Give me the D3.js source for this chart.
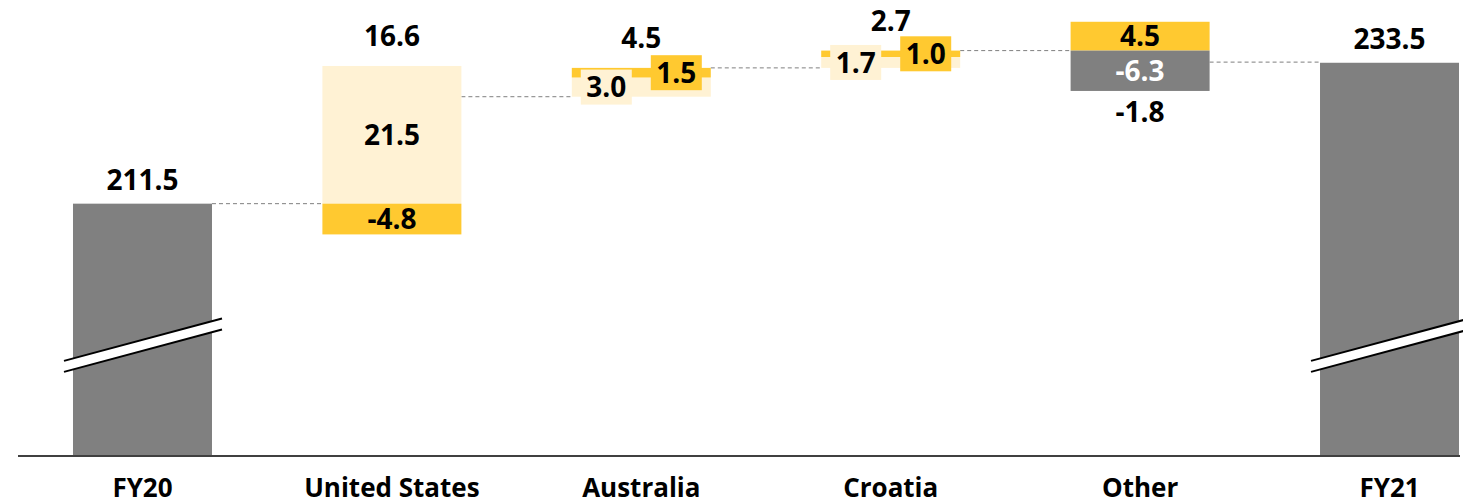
<!DOCTYPE html>
<html>
<head>
<meta charset="utf-8">
<script src="https://cdn.jsdelivr.net/npm/d3@7"></script>
<style>
  html, body { margin: 0; padding: 0; background: #fff; }
  svg { display: block; }
  text { font-family: "Open Sans", "Lato", sans-serif; font-weight: 700; }
</style>
</head>
<body>
<svg id="chart" width="1463" height="504"></svg>
<script>
// Bridge categories, left to right
const categories = ["FY20", "United States", "Australia", "Croatia", "Other", "FY21"];

// Opening and closing totals
const startTotal = 211.5;
const endTotal = 233.5;

// Change components per category (null = not present)
const creamChanges  = [null, 21.5, 3.0, 1.7, null, null];
const yellowChanges = [null, -4.8, 1.5, 1.0, 4.5, null];
const greyChanges   = [null, null, null, null, -6.3, null];

// Net change shown above/below each bridge step
const netLabels = [null, 16.6, 4.5, 2.7, -1.8, null];

const W = 1463, H = 504;
const COLORS = { cream: "#FFF2D4", yellow: "#FFC930", grey: "#808080" };
const VALUE_FONT = 28;

const svg = d3.select("#chart");

const x = d3.scaleBand()
  .domain(categories)
  .range([18, 1514])
  .paddingInner(0.4427)
  .paddingOuter(0.2205);
const bw = x.bandwidth();

// The axis is broken: it starts well above zero
const y = d3.scaleLinear().domain([172.1, 243.3]).range([456, 0]);
const baseY = y.range()[0];
const fmt = d3.formatLocale({ decimal: ".", thousands: ",", grouping: [3], currency: ["", ""], minus: "-" }).format(".1f");

// Build stacked segments for the change categories
const series = [
  { key: "cream", values: creamChanges },
  { key: "yellow", values: yellowChanges },
  { key: "grey", values: greyChanges }
];

let running = startTotal;
const steps = categories.map((cat, i) => {
  if (i === 0) return { cat, type: "total", value: startTotal, start: startTotal, end: startTotal };
  if (i === categories.length - 1) return { cat, type: "total", value: endTotal, start: endTotal, end: endTotal };
  const start = running;
  let up = start, down = start;
  const segs = [];
  series.forEach(s => {
    const v = s.values[i];
    if (v == null) return;
    if (v >= 0) { segs.push({ key: s.key, v, lo: up, hi: up + v }); up += v; }
    else { segs.push({ key: s.key, v, lo: down + v, hi: down }); down += v; }
  });
  const end = start + segs.reduce((a, s) => a + s.v, 0);
  running = end;
  return { cat, type: "change", start, end, segs, top: up, bottom: down, net: netLabels[i] };
});

// Dashed connectors between consecutive steps
const conn = svg.append("g");
for (let i = 0; i < steps.length - 1; i++) {
  const a = steps[i], b = steps[i + 1];
  conn.append("line")
    .attr("x1", x(a.cat) + bw).attr("x2", x(b.cat))
    .attr("y1", y(a.end)).attr("y2", y(a.end))
    .attr("stroke", "#7f7f7f").attr("stroke-width", 1)
    .attr("stroke-dasharray", "4,3");
}

// Total bars
const totals = steps.filter(d => d.type === "total");
svg.append("g").selectAll("rect").data(totals).join("rect")
  .attr("x", d => x(d.cat)).attr("width", bw)
  .attr("y", d => y(d.value)).attr("height", d => baseY - y(d.value))
  .attr("fill", COLORS.grey);

svg.append("g").selectAll("text").data(totals).join("text")
  .attr("x", d => x(d.cat) + bw / 2)
  .attr("y", d => y(d.value) - 14)
  .attr("text-anchor", "middle").attr("font-size", VALUE_FONT).attr("fill", "#000")
  .text(d => fmt(d.value));

// Axis break marks on the total bars
const breakAt = 189.4;
const brk = svg.append("g");
totals.forEach(d => {
  const x0 = x(d.cat) - 9, x1 = x(d.cat) + bw + 10;
  const yc = y(breakAt);
  const rise = 42.4, gap = 11;
  const yl = yc + rise / 2 - gap / 2, yr = yc - rise / 2 - gap / 2;
  brk.append("path")
    .attr("d", `M${x0},${yl}L${x1},${yr}L${x1},${yr + gap}L${x0},${yl + gap}Z`)
    .attr("fill", "#fff");
  [0, gap].forEach(o => brk.append("line")
    .attr("x1", x0).attr("y1", yl + o).attr("x2", x1).attr("y2", yr + o)
    .attr("stroke", "#000").attr("stroke-width", 2));
});

// Change bars and their labels
const changes = steps.filter(d => d.type === "change");
const segG = svg.append("g");
const lblG = svg.append("g");
changes.forEach(d => {
  const cx = x(d.cat) + bw / 2;
  let boxedIdx = 0;
  d.segs.forEach(s => {
    const yTop = y(s.hi), yBot = y(s.lo);
    segG.append("rect")
      .attr("x", x(d.cat)).attr("width", bw)
      .attr("y", yTop).attr("height", yBot - yTop)
      .attr("fill", COLORS[s.key]);
    const mid = (yTop + yBot) / 2;
    const txtColor = s.key === "grey" ? "#fff" : "#000";
    if (yBot - yTop < 22) {
      // Thin segment: label sits in a coloured tag beside the centre
      const lx = cx + (boxedIdx === 0 ? -35 : 35);
      boxedIdx++;
      lblG.append("rect")
        .attr("x", lx - 25.5).attr("y", mid - 17.5)
        .attr("width", 51).attr("height", 35)
        .attr("fill", COLORS[s.key]);
      lblG.append("text")
        .attr("x", lx).attr("y", mid).attr("dy", "0.36em")
        .attr("text-anchor", "middle").attr("font-size", VALUE_FONT).attr("fill", txtColor)
        .text(fmt(s.v));
    } else {
      lblG.append("text")
        .attr("x", cx).attr("y", mid).attr("dy", "0.36em")
        .attr("text-anchor", "middle").attr("font-size", VALUE_FONT).attr("fill", txtColor)
        .text(fmt(s.v));
    }
  });
  if (d.net != null) {
    const ty = d.net >= 0 ? y(d.top) - 20 : y(d.bottom) + 31;
    lblG.append("text")
      .attr("x", cx).attr("y", ty)
      .attr("text-anchor", "middle").attr("font-size", VALUE_FONT).attr("fill", "#000")
      .text(fmt(d.net));
  }
});

// Category axis
const axis = svg.append("g")
  .attr("transform", `translate(0,${baseY})`)
  .call(d3.axisBottom(x).tickSize(0).tickPadding(0));
axis.select(".domain").remove();
axis.selectAll("text")
  .attr("font-size", 26).attr("fill", "#000")
  .attr("dy", null).attr("y", 41)
  .style("font-family", "'Open Sans', Lato, sans-serif").style("font-weight", 700);

svg.append("line")
  .attr("x1", 18).attr("x2", 1460)
  .attr("y1", baseY).attr("y2", baseY)
  .attr("stroke", "#404040").attr("stroke-width", 2);
</script>
</body>
</html>
